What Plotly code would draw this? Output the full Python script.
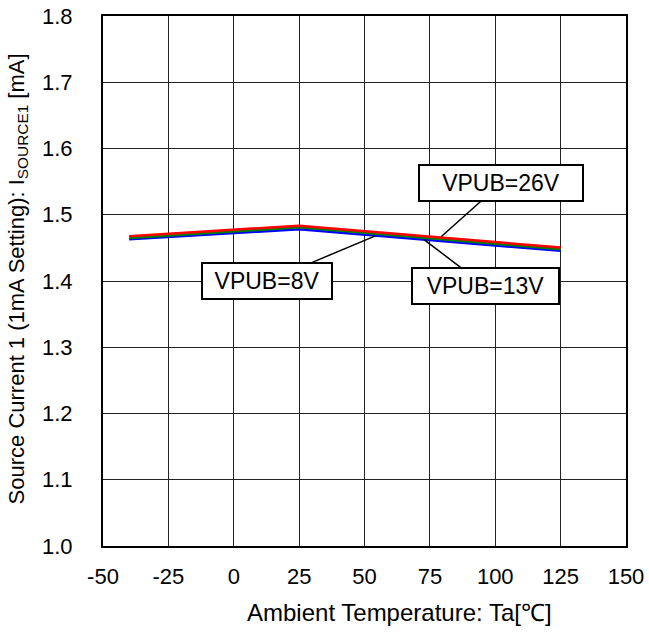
import plotly.graph_objects as go

temps = [-40, 25, 125]
vpub_8v = [1.463, 1.478, 1.4455]
vpub_13v = [1.465, 1.481, 1.448]
vpub_26v = [1.4675, 1.4835, 1.4505]

x_ticks = [-50, -25, 0, 25, 50, 75, 100, 125, 150]
y_ticks = [1.0, 1.1, 1.2, 1.3, 1.4, 1.5, 1.6, 1.7, 1.8]

FONT = "Liberation Sans, Arial, sans-serif"

fig = go.Figure()
fig.add_trace(go.Scatter(x=temps, y=vpub_8v, mode="lines", line=dict(color="#0000ff", width=2.5), name="VPUB=8V"))
fig.add_trace(go.Scatter(x=temps, y=vpub_13v, mode="lines", line=dict(color="#008000", width=2.5), name="VPUB=13V"))
fig.add_trace(go.Scatter(x=temps, y=vpub_26v, mode="lines", line=dict(color="#ff0000", width=2.5), name="VPUB=26V"))

def ann(text, x, y, ax, ay, w):
    fig.add_annotation(
        x=x, y=y, ax=ax, ay=ay, axref="x", ayref="y", xref="x", yref="y",
        text=text, showarrow=True, arrowhead=0, arrowwidth=1.5, arrowcolor="black",
        bgcolor="white", bordercolor="black", borderwidth=2, borderpad=4,
        width=w, height=26, align="center",
        font=dict(family=FONT, size=23, color="black"),
    )

ann("VPUB=8V", 54.4, 1.4685, 12.7, 1.3995, 120)
ann("VPUB=26V", 79.3, 1.4668, 102.2, 1.5476, 154)
ann("VPUB=13V", 72.75, 1.4625, 96.3, 1.392, 137)

# axis titles as annotations for exact placement
fig.add_annotation(
    text="Ambient Temperature: Ta[\u2103]", xref="paper", yref="paper",
    x=0.566, y=-0.126, xanchor="center", yanchor="middle", showarrow=False,
    font=dict(family=FONT, size=24, color="black"),
)
fig.add_annotation(
    text="Source Current 1 (1mA Setting): I<sub>SOURCE1</sub> [mA]", xref="paper", yref="paper",
    x=-0.1625, y=0.503, xanchor="center", yanchor="middle", showarrow=False, textangle=-90,
    font=dict(family=FONT, size=22, color="black"),
)

fig.update_layout(
    width=649, height=632,
    margin=dict(l=103, r=23, t=16, b=86),
    paper_bgcolor="white", plot_bgcolor="white",
    showlegend=False,
    font=dict(family=FONT, size=22, color="black"),
)
fig.update_xaxes(
    range=[-50, 150], tickvals=x_ticks, ticktext=[str(v) for v in x_ticks],
    showgrid=True, gridcolor="#222222", gridwidth=1,
    showline=True, linecolor="black", linewidth=2, mirror=True,
    ticks="", ticklabelstandoff=10, zeroline=False, automargin=False,
)
fig.update_yaxes(
    range=[1.0, 1.8], tickvals=y_ticks, ticktext=[f"{v:.1f}" for v in y_ticks],
    showgrid=True, gridcolor="#222222", gridwidth=1,
    showline=True, linecolor="black", linewidth=2, mirror=True,
    ticks="", ticklabelstandoff=24, zeroline=False, automargin=False,
)

fig.write_html("out.html", config={"displayModeBar": False},
               post_script="document.body.style.margin='0px';")
